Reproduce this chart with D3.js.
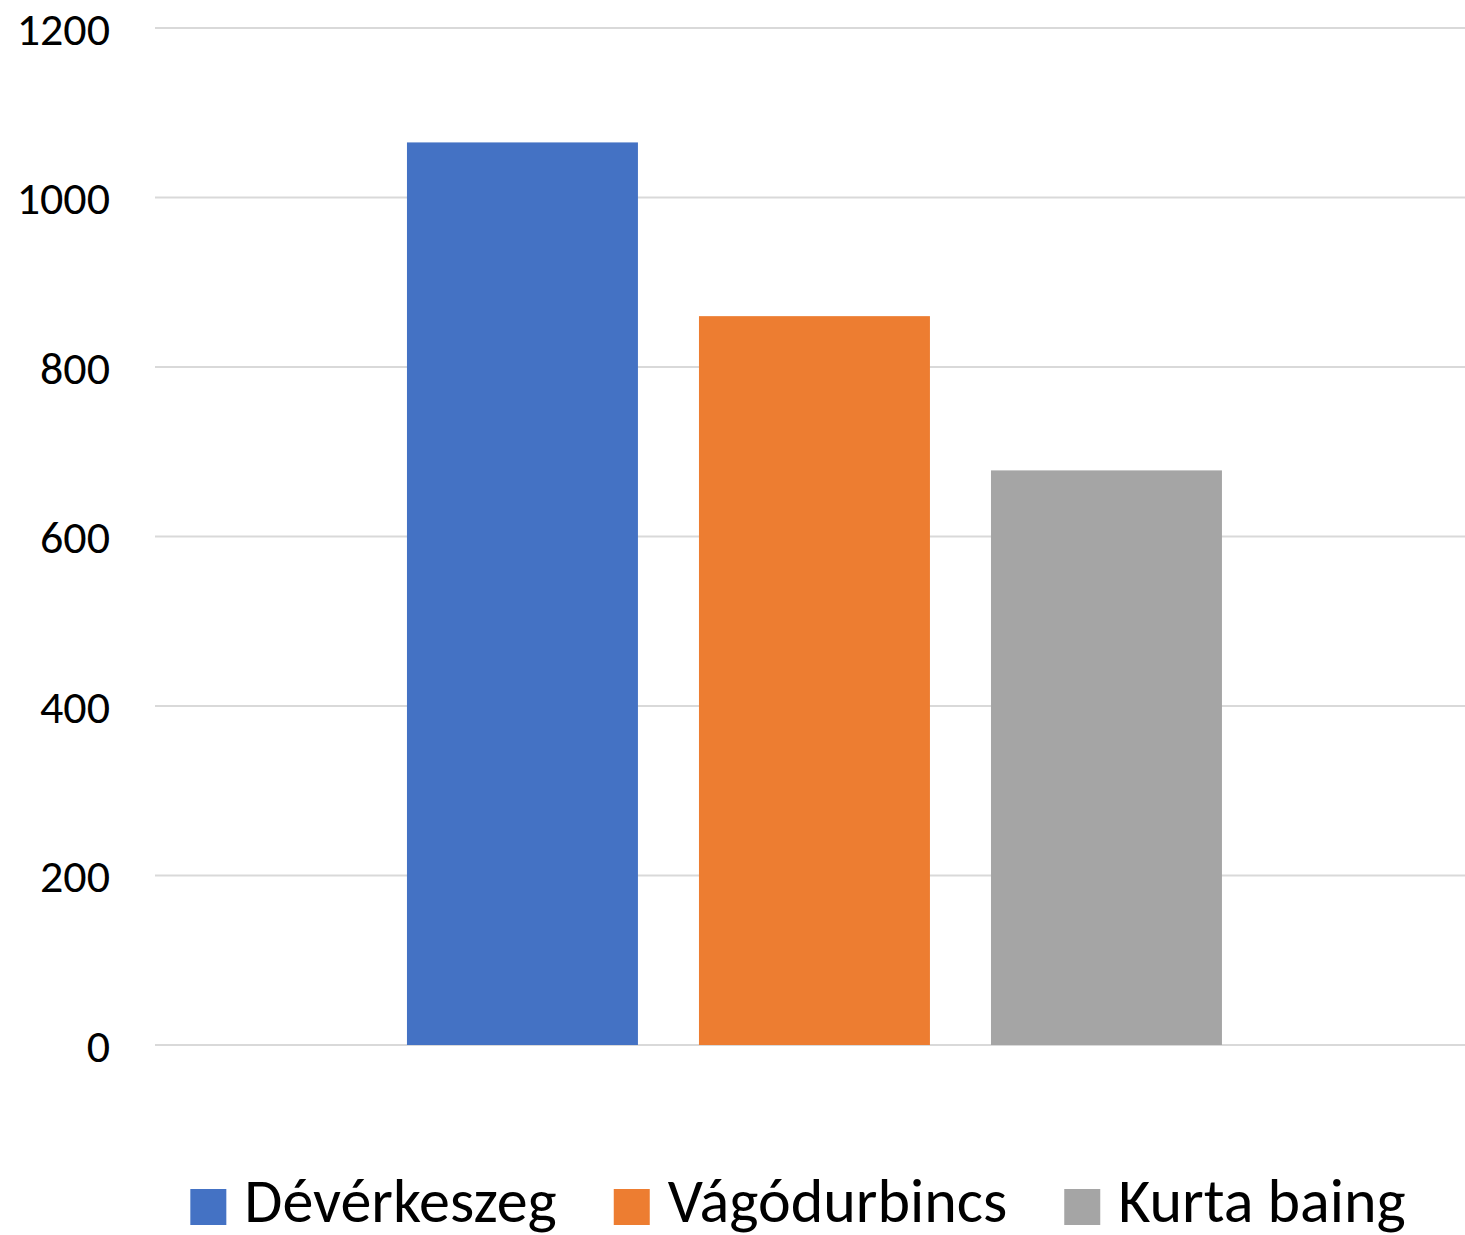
<!DOCTYPE html>
<html>
<head>
<meta charset="utf-8">
<script src="https://cdn.jsdelivr.net/npm/d3@7"></script>
<style>
  body { margin: 0; background: #fff; }
  svg { display: block; font-family: Carlito, Lato, "Open Sans", sans-serif; }
</style>
</head>
<body>
<div id="chart"></div>
<script>
// Datos
const CATEGORIAS = ["1"];
const SERIES = ["Dévérkeszeg", "Vágódurbincs", "Kurta baing"];
const VALORES = [1065, 860, 678];
const COLORES = ["#4472C4", "#ED7D31", "#A5A5A5"];
const TICKS_Y = [0, 200, 400, 600, 800, 1000, 1200];

const WIDTH = 1465;
const HEIGHT = 1235;
const MARGIN = { top: 28, right: 0, bottom: 190, left: 155 };

const svg = d3.select("#chart").append("svg")
    .attr("width", WIDTH).attr("height", HEIGHT);

// Escalas
const y = d3.scaleLinear()
    .domain([0, 1200])
    .range([HEIGHT - MARGIN.bottom, MARGIN.top]);

const x0 = d3.scaleBand()
    .domain(CATEGORIAS)
    .range([MARGIN.left, WIDTH - MARGIN.right])
    .paddingInner(0)
    .paddingOuter(0.3037)
    .align(0.509);

const x1 = d3.scaleBand()
    .domain(SERIES)
    .range([0, x0.bandwidth()])
    .paddingInner(0.209)
    .paddingOuter(0);

// Grilla
svg.append("g").selectAll("line").data(TICKS_Y).join("line")
    .attr("x1", MARGIN.left).attr("x2", WIDTH - MARGIN.right)
    .attr("y1", d => y(d)).attr("y2", d => y(d))
    .attr("stroke", "#d9d9d9").attr("stroke-width", 2);

// Etiquetas eje Y
svg.append("g").selectAll("text").data(TICKS_Y).join("text")
    .attr("x", 110).attr("y", d => y(d))
    .attr("dy", "0.36em")
    .attr("text-anchor", "end")
    .attr("font-size", 46)
    .attr("fill", "#000")
    .text(d => d);

// Barras
const datos = SERIES.map((s, i) => ({ serie: s, valor: VALORES[i], color: COLORES[i], cat: CATEGORIAS[0] }));
svg.append("g").selectAll("rect").data(datos).join("rect")
    .attr("x", d => x0(d.cat) + x1(d.serie))
    .attr("width", x1.bandwidth())
    .attr("y", d => y(d.valor))
    .attr("height", d => y(0) - y(d.valor))
    .attr("fill", d => d.color);

// Leyenda
const leyenda = svg.append("g");
const SQ = 36, GAP_TXT = 18, GAP_ITEM = 57;
const items = leyenda.selectAll("g").data(datos).join("g");
items.append("rect").attr("width", SQ).attr("height", SQ).attr("y", -SQ / 2).attr("fill", d => d.color);
items.append("text").attr("x", SQ + GAP_TXT).attr("y", 15)
    .attr("font-size", 62).attr("fill", "#000").text(d => d.serie);

let pos = 0;
items.each(function () {
    const w = this.getBBox().width;
    d3.select(this).attr("transform", `translate(${pos},0)`);
    pos += w + GAP_ITEM;
});
const totalW = pos - GAP_ITEM;
leyenda.attr("transform", `translate(${798 - totalW / 2}, 1207)`);
</script>
</body>
</html>
